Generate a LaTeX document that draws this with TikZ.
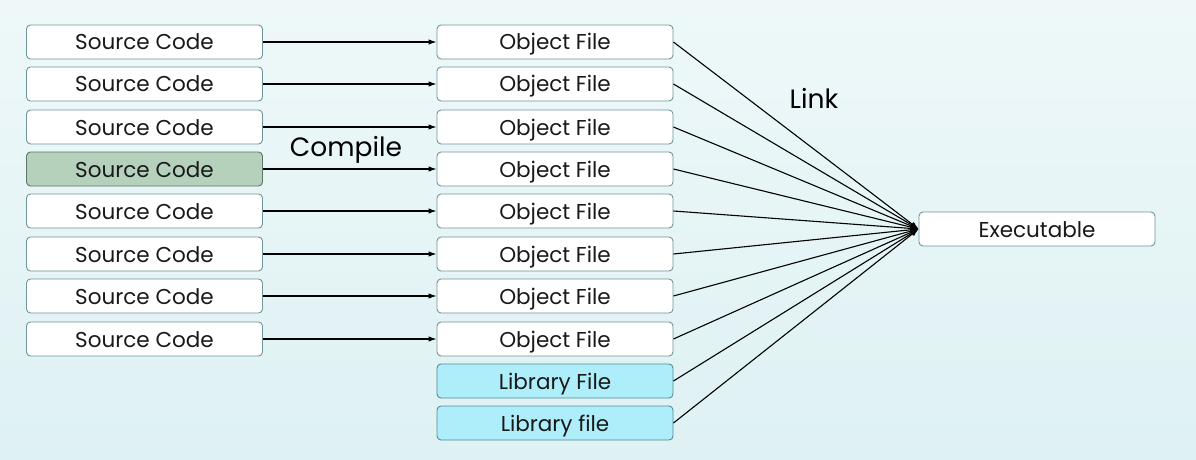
\documentclass[tikz,border=0pt]{standalone}
\usepackage{fontspec}
\setmainfont{Poppins}
\usetikzlibrary{arrows.meta}
\definecolor{bgtop}{RGB}{238,248,249}
\definecolor{bgbot}{RGB}{222,241,243}
\definecolor{bord}{RGB}{110,150,155}
\definecolor{greenfill}{RGB}{181,209,188}
\definecolor{greenbord}{RGB}{90,120,100}
\definecolor{libfill}{RGB}{174,238,250}
\definecolor{libbord}{RGB}{80,140,150}
\newcommand{\bt}[1]{\raisebox{-8pt}[0pt][0pt]{#1}}
\begin{document}
\begin{tikzpicture}[x=1pt,y=-1pt,
  box/.style={draw=bord,line width=0.9pt,rounded corners=4pt,fill=white,minimum width=236pt,minimum height=34pt,inner sep=0pt,font=\fontsize{21.5}{24}\selectfont,text=black!90},
  srcgreen/.style={box,fill=greenfill,draw=greenbord},
  libbox/.style={box,fill=libfill,draw=libbord},
  arr/.style={-{Latex[length=8pt,width=5.5pt]},line width=1.1pt,black},
  lbl/.style={font=\fontsize{26.5}{30}\selectfont,text=black}]
\shade[top color=bgtop,bottom color=bgbot] (0,0) rectangle (1196,460);
\useasboundingbox (0,0) rectangle (1196,460);
\foreach \i/\y in {1/42,2/84,3/127,4/169,5/211,6/254,7/296,8/339}{
  \ifnum\i=4
    \node[srcgreen] (s\i) at (144.5,\y) {\bt{Source Code}};
  \else
    \node[box] (s\i) at (144.5,\y) {\bt{Source Code}};
  \fi
  \node[box] (o\i) at (555,\y) {\bt{Object File}};
  \draw[arr] (s\i) -- (o\i);
}
\node[libbox] (l1) at (555,381) {\bt{Library File}};
\node[libbox] (l2) at (555,423) {\bt{Library file}};
\node[box] (e) at (1037,229) {\bt{Executable}};
\foreach \n in {o1,o2,o3,o4,o5,o6,o7,o8,l1,l2}{
  \draw[arr] (\n.east) -- (e.west);
}
\node[lbl] (c) at (346,150) {Compile};
\node[lbl] (k) at (814,98) {Link};
\end{tikzpicture}
\end{document}
